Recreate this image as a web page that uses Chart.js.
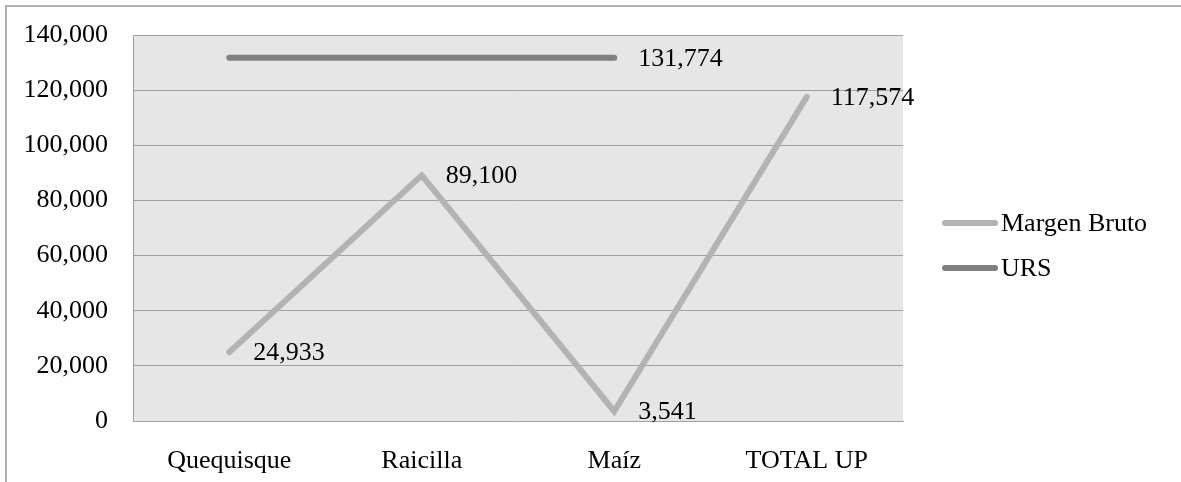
<!DOCTYPE html>
<html>
<head>
<meta charset="utf-8">
<script src="https://cdn.jsdelivr.net/npm/chart.js@4"></script>
<style>
  html, body { margin: 0; padding: 0; background: #ffffff; }
  #wrap { position: relative; width: 1181px; height: 482px; overflow: hidden; }
  #frame { position: absolute; left: 5px; top: 5px; right: -10px; bottom: -10px;
           border-top: 2px solid #b0b0b0; border-left: 2px solid #b0b0b0; pointer-events: none; }
  canvas { position: absolute; left: 0; top: 0; }
</style>
</head>
<body>
<div id="wrap">
  <canvas id="c" width="1181" height="482"></canvas>
  <div id="frame"></div>
</div>
<script>
const categories = ["Quequisque", "Raicilla", "Maíz", "TOTAL UP"];
const margenBruto = [24933, 89100, 3541, 117574];
const urs = [131774, 131774, 131774, null];
const yTicks = [0, 20000, 40000, 60000, 80000, 100000, 120000, 140000];
const seriesNames = ["Margen Bruto", "URS"];
const seriesColors = ["#b3b3b3", "#808080"];
const ursLabelIndex = 2;

const FONT = "'Liberation Serif', 'Times New Roman', serif";
const fmt = v => v.toLocaleString('en-US');

const plotBg = {
  id: 'plotBg',
  beforeDraw(chart) {
    const {ctx, chartArea: a} = chart;
    ctx.save();
    ctx.fillStyle = '#e6e6e6';
    ctx.fillRect(a.left, a.top, a.right - a.left, a.bottom - a.top);
    ctx.restore();
  }
};

const valueLabels = {
  id: 'valueLabels',
  afterDatasetsDraw(chart) {
    const {ctx} = chart;
    ctx.save();
    ctx.font = '26px ' + FONT;
    ctx.fillStyle = '#000000';
    ctx.textAlign = 'left';
    ctx.textBaseline = 'middle';
    chart.data.datasets.forEach((ds, di) => {
      const meta = chart.getDatasetMeta(di);
      meta.data.forEach((pt, i) => {
        const v = ds.data[i];
        if (v === null || v === undefined) return;
        if (di === 1 && i !== ursLabelIndex) return;
        ctx.fillText(fmt(v), pt.x + 24, pt.y + 1);
      });
    });
    ctx.restore();
  }
};

const sideLegend = {
  id: 'sideLegend',
  afterDraw(chart) {
    const {ctx} = chart;
    ctx.save();
    ctx.font = '26px ' + FONT;
    ctx.textAlign = 'left';
    ctx.textBaseline = 'middle';
    chart.data.datasets.forEach((ds, i) => {
      const y = 223 + i * 45;
      ctx.strokeStyle = ds.borderColor;
      ctx.lineWidth = 6;
      ctx.lineCap = 'round';
      ctx.beginPath();
      ctx.moveTo(945, y);
      ctx.lineTo(995, y);
      ctx.stroke();
      ctx.fillStyle = '#000000';
      ctx.fillText(ds.label, 1001, y + 1);
    });
    ctx.restore();
  }
};

new Chart(document.getElementById('c'), {
  type: 'line',
  data: {
    labels: categories,
    datasets: [
      { label: seriesNames[0], data: margenBruto, borderColor: seriesColors[0], backgroundColor: seriesColors[0],
        borderWidth: 6, pointRadius: 0, borderCapStyle: 'round', borderJoinStyle: 'miter', tension: 0 },
      { label: seriesNames[1], data: urs, borderColor: seriesColors[1], backgroundColor: seriesColors[1],
        borderWidth: 6, pointRadius: 0, borderCapStyle: 'round', borderJoinStyle: 'miter', tension: 0, spanGaps: false }
    ]
  },
  options: {
    responsive: false,
    animation: false,
    devicePixelRatio: 1,
    layout: { padding: { top: 35, right: 278, bottom: 0, left: 0 } },
    plugins: { legend: { display: false }, tooltip: { enabled: false } },
    scales: {
      x: {
        offset: true,
        grid: { display: false },
        border: { display: true, color: '#a0a0a0', width: 1 },
        ticks: { color: '#000000', padding: 17, maxRotation: 0, font: { family: FONT, size: 26 } },
        afterFit(s) { s.height = 61; s.paddingLeft = 0; s.paddingRight = 0; }
      },
      y: {
        min: 0, max: 140000,
        afterBuildTicks(s) { s.ticks = yTicks.map(v => ({ value: v })); },
        grid: { color: '#a0a0a0', lineWidth: 1, drawTicks: false },
        border: { display: true, color: '#a0a0a0', width: 1 },
        ticks: { color: '#000000', padding: 25, font: { family: FONT, size: 26 }, callback: v => fmt(v) },
        afterFit(s) { s.width = 133; s.paddingTop = 0; s.paddingBottom = 0; }
      }
    }
  },
  plugins: [plotBg, valueLabels, sideLegend]
});
</script>
</body>
</html>
